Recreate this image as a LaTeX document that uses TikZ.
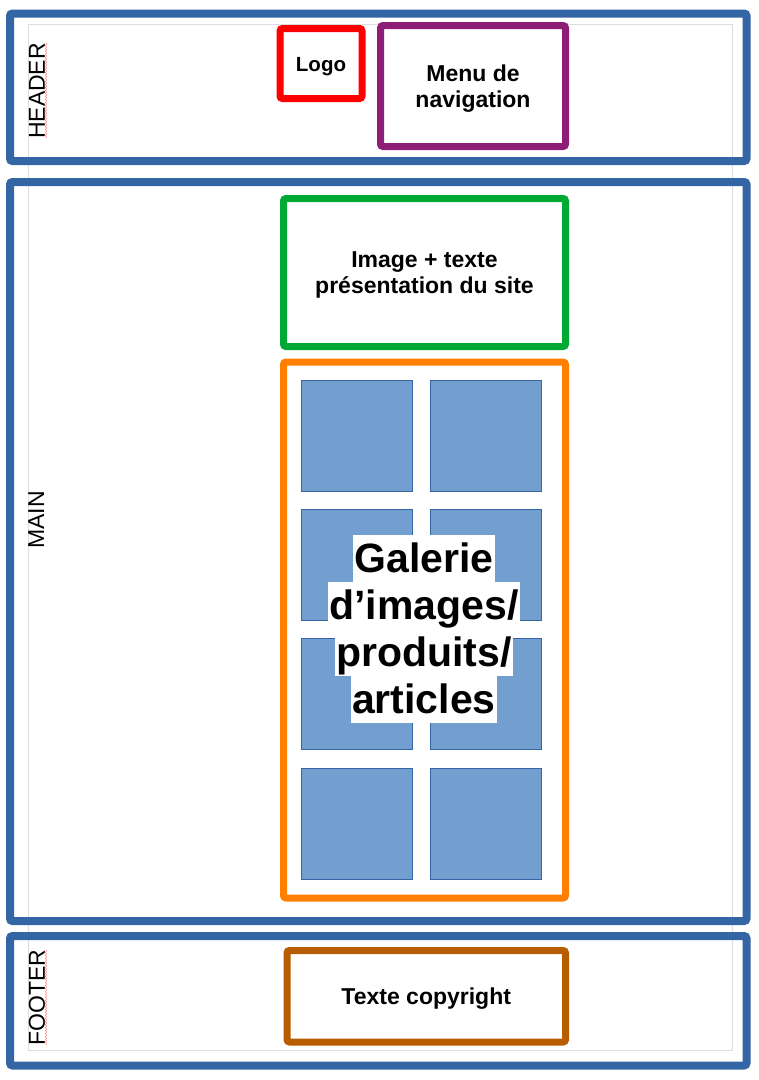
\documentclass[tikz,border=0pt]{standalone}
\usepackage{fontspec}
\setmainfont{Liberation Sans}
\usetikzlibrary{decorations.pathmorphing}
\definecolor{lblue}{HTML}{3465A4}
\definecolor{sqfill}{HTML}{729FCF}
\definecolor{lored}{HTML}{FF0000}
\definecolor{lopurple}{HTML}{8D1D75}
\definecolor{logreen}{HTML}{00A933}
\definecolor{loorange}{HTML}{FF8000}
\definecolor{lobrown}{HTML}{B85C00}
\definecolor{pagegray}{HTML}{DDDDDD}
\tikzset{
  x=1pt, y=-1pt,
  section/.style={draw=lblue, line width=8pt, rounded corners=2.5pt, inner sep=0pt},
  zone/.style={draw=#1, line width=7pt, rounded corners=2.5pt, inner sep=0pt},
  zonetext/.style={align=center, inner sep=0pt, yshift=-2.8pt,
    font=\bfseries\fontsize{23}{26}\selectfont},
  tile/.style={fill=sqfill, draw=lblue, line width=0.6pt, minimum width=111pt, minimum height=111pt, inner sep=0pt},
  vlabel/.style={rotate=90, anchor=base, font=\fontsize{23}{26}\selectfont, inner sep=0pt},
  galline/.style={fill=white, inner xsep=1.5pt, inner ysep=0.8pt, text height=37pt, text depth=8.6pt,
    font=\bfseries\fontsize{41}{47}\selectfont},
  spell/.style={draw=red!45, line width=0.5pt, decorate, decoration={snake, amplitude=0.8pt, segment length=3pt}}
}
\begin{document}
\begin{tikzpicture}
\useasboundingbox (0,0) rectangle (759,1080);
% page margin
\draw[pagegray, line width=0.8pt] (28,24) rectangle (732,1050);
% sections
\node[section, minimum width=736.5pt, minimum height=147.5pt] (header) at (378.25,87.25) {};
\node[section, minimum width=736.5pt, minimum height=739pt] (main) at (378.25,551.5) {};
\node[section, minimum width=736.5pt, minimum height=129.5pt] (footer) at (378.25,1000.75) {};
% vertical labels
\node[vlabel] (lheader) at (45,91) {HEADER};
\node[vlabel] (lmain) at (44,520) {MAIN};
\node[vlabel] (lfooter) at (45,997.5) {FOOTER};
\coordinate (sh1) at (46,43);
\coordinate (sh2) at (46,138);
\coordinate (sf1) at (46,950);
\coordinate (sf2) at (46,1045);
\draw[spell] (sh1) -- (sh2);
\draw[spell] (sf1) -- (sf2);
% header content
\node[zone=lored, minimum width=82pt, minimum height=70pt] (logo) at (321,63.5) {};
\node[zonetext, font=\bfseries\fontsize{20.5}{24}\selectfont] (logotxt) at (logo.center) {Logo};
\node[zone=lopurple, minimum width=185pt, minimum height=121pt] (menu) at (473,86) {};
\node[zonetext] (menutxt) at (menu.center) {Menu de\\navigation};
% main content
\node[zone=logreen, minimum width=282pt, minimum height=148pt] (intro) at (424.5,272.5) {};
\node[zonetext] (introtxt) at (intro.center) {Image + texte\\présentation du site};
\node[zone=loorange, minimum width=282pt, minimum height=536pt] (gallery) at (424.5,630) {};
\foreach \r/\yy in {1/435.5, 2/564.5, 3/693.5, 4/823.5}{
  \node[tile] (t\r a) at (356.5,\yy) {};
  \node[tile] (t\r b) at (486,\yy) {};
}
\node[galline] (g1) at (424,558.5) {Galerie};
\node[galline] (g2) at (424,605.5) {d’images/};
\node[galline] (g3) at (424,652.5) {produits/};
\node[galline] (g4) at (424,699.5) {articles};
% footer content
\node[zone=lobrown, minimum width=278.5pt, minimum height=91.5pt] (copy) at (426.25,996.25) {};
\node[zonetext] (copytxt) at (copy.center) {Texte copyright};
\end{tikzpicture}
\end{document}
